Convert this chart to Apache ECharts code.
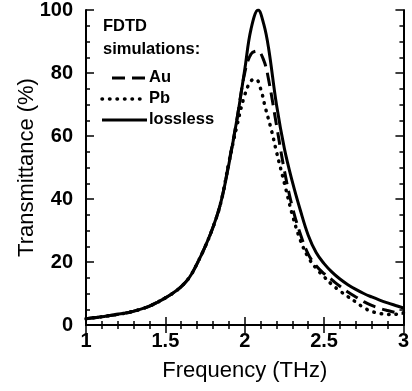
<!DOCTYPE html>
<html>
<head>
<meta charset="utf-8">
<script src="https://cdn.jsdelivr.net/npm/echarts@6/dist/echarts.min.js"></script>
<style>html,body{margin:0;padding:0;background:#fff;}#c{width:412px;height:391px;}</style>
</head>
<body>
<div id="c"></div>
<script>
// Frequency (THz) / transmittance (%)
var freqLossless = [1.00,1.05,1.10,1.15,1.20,1.25,1.30,1.35,1.40,1.45,1.50,1.55,1.60,1.65,1.70,1.75,1.80,1.85,1.90,1.95,2.00,2.04,2.085,2.12,2.15,2.20,2.25,2.30,2.35,2.40,2.45,2.50,2.55,2.60,2.65,2.70,2.75,2.80,2.85,2.90,2.95,3.00];
var valLossless  = [2.0,2.3,2.6,3.0,3.4,3.8,4.4,5.1,6.0,7.2,8.6,10.2,12.2,15.0,19.5,24.8,31,39,51,65,81,94,100,95.5,88,70,56,45.5,36.5,28.5,23,19.5,16.8,14.6,12.8,11.3,10.0,8.9,7.9,7.0,6.2,5.4];

var freqAu = [1.00,1.05,1.10,1.15,1.20,1.25,1.30,1.35,1.40,1.45,1.50,1.55,1.60,1.65,1.70,1.75,1.80,1.85,1.90,1.95,2.00,2.04,2.08,2.12,2.15,2.20,2.25,2.30,2.35,2.40,2.45,2.50,2.55,2.60,2.65,2.70,2.75,2.80,2.85,2.90,2.95,3.00];
var valAu  = [2.0,2.3,2.6,3.0,3.4,3.8,4.4,5.1,6.0,7.2,8.6,10.2,12.2,15.0,19.5,24.8,31,39,51.5,65,80,86,87,84,78,63.5,49,37.5,29,22.5,18.8,16.3,14.3,12.3,10.5,8.9,7.4,6.2,5.3,4.6,4.0,3.7];

var freqPb = [1.00,1.05,1.10,1.15,1.20,1.25,1.30,1.35,1.40,1.45,1.50,1.55,1.60,1.65,1.70,1.75,1.80,1.85,1.90,1.95,2.00,2.04,2.07,2.10,2.13,2.17,2.20,2.25,2.30,2.35,2.40,2.45,2.50,2.55,2.60,2.65,2.70,2.75,2.80,2.85,2.90,2.95,3.00];
var valPb  = [2.0,2.3,2.6,3.0,3.4,3.8,4.4,5.1,6.0,7.2,8.6,10.2,12.2,15.0,19.5,24.8,31,39,51.5,63,73,77.5,78,75,69,61.5,55,45,35,27,21.5,18,15.3,12.8,10.8,9.0,7.3,5.5,4.3,3.7,3.3,3.4,3.9];

var xTicks = {min: 1, max: 3, interval: 0.5};
var yTicks = {min: 0, max: 100, interval: 20};
var seriesNames = ['Au', 'Pb', 'lossless'];
var titleLines = ['FDTD', 'simulations:'];
var xName = 'Frequency (THz)';
var yName = 'Transmittance (%)';

function pairs(xs, ys) { return xs.map(function (x, i) { return [x, ys[i]]; }); }

var FONT = 'Arial, "Liberation Sans", sans-serif';
var chart = echarts.init(document.getElementById('c'), null, {renderer: 'canvas'});

var axisLine = {show: true, lineStyle: {color: '#000', width: 2}};
function xAx(pos, labels) {
  return {
    type: 'value', position: pos, min: xTicks.min, max: xTicks.max, interval: xTicks.interval,
    axisLine: axisLine,
    axisTick: {show: true, inside: true, length: 8, lineStyle: {color: '#000', width: 1.5}},
    minorTick: {show: true, splitNumber: 5, length: 4, lineStyle: {color: '#000', width: 1.5}},
    splitLine: {show: false},
    axisLabel: {show: labels, color: '#000', fontFamily: FONT, fontSize: 20, fontWeight: 'bold', margin: 6,
      formatter: function (v) { return String(+v.toFixed(1)); }},
    name: labels ? xName : '', nameLocation: 'middle', nameGap: 35, nameMoveOverlap: false,
    nameTextStyle: {color: '#000', fontFamily: FONT, fontSize: 22}
  };
}
function yAx(pos, labels) {
  return {
    type: 'value', position: pos, min: yTicks.min, max: yTicks.max, interval: yTicks.interval,
    axisLine: axisLine,
    axisTick: {show: true, inside: true, length: 8, lineStyle: {color: '#000', width: 1.5}},
    minorTick: {show: true, splitNumber: 4, length: 4, lineStyle: {color: '#000', width: 1.5}},
    splitLine: {show: false},
    axisLabel: {show: labels, color: '#000', fontFamily: FONT, fontSize: 20, fontWeight: 'bold', margin: 13},
    name: labels ? yName : '', nameLocation: 'middle', nameGap: 48, nameRotate: 90, nameMoveOverlap: false,
    nameTextStyle: {color: '#000', fontFamily: FONT, fontSize: 22}
  };
}

var common = {type: 'line', smooth: 0.4, showSymbol: false, symbol: 'none', xAxisIndex: 0, yAxisIndex: 0, animation: false};
var styleAu = {color: '#000', width: 3, type: [13, 7]};
var stylePb = {color: '#000', width: 3.5, type: [0.5, 7], cap: 'round'};
var styleLossless = {color: '#000', width: 3};

// key (legend) drawn as graphics
var keyText = {fill: '#000', font: 'bold 16.5px ' + FONT, textVerticalAlign: 'top'};
function txt(x, y, s) { return {type: 'text', left: x, top: y - 9, style: Object.assign({text: s}, keyText)}; }
function keyLine(x1, x2, y, ls) {
  return {type: 'line', shape: {x1: x1, y1: y, x2: x2, y2: y},
    style: {stroke: '#000', lineWidth: ls.width, lineDash: Array.isArray(ls.type) ? ls.type : null, lineCap: ls.cap || 'butt'}};
}

chart.setOption({
  animation: false,
  backgroundColor: '#fff',
  grid: {left: 86, right: 7, top: 8, bottom: 66},
  graphic: [
    txt(103, 27, titleLines[0]),
    txt(103, 50, titleLines[1]),
    keyLine(112, 147, 78, styleAu), txt(149, 78, seriesNames[0]),
    keyLine(102, 147, 99, stylePb), txt(149, 99, seriesNames[1]),
    keyLine(102, 147, 120, styleLossless), txt(149, 120, seriesNames[2])
  ],
  xAxis: [xAx('bottom', true), xAx('top', false)],
  yAxis: [yAx('left', true), yAx('right', false)],
  series: [
    Object.assign({}, common, {name: seriesNames[0], data: pairs(freqAu, valAu), lineStyle: styleAu}),
    Object.assign({}, common, {name: seriesNames[1], data: pairs(freqPb, valPb), lineStyle: stylePb}),
    Object.assign({}, common, {name: seriesNames[2], data: pairs(freqLossless, valLossless), lineStyle: styleLossless})
  ]
});
</script>
</body>
</html>
